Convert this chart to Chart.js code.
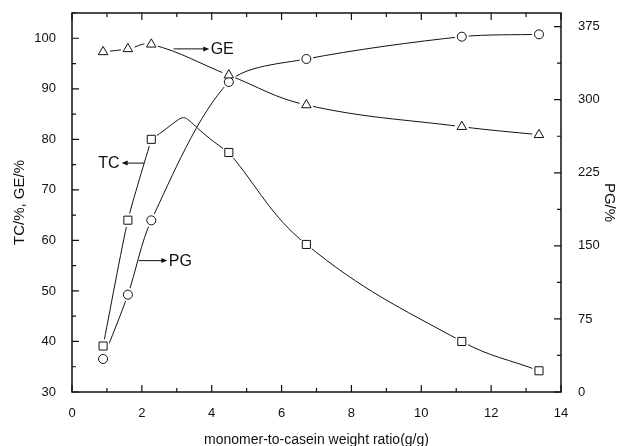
<!DOCTYPE html>
<html>
<head>
<meta charset="utf-8">
<script src="https://cdn.jsdelivr.net/npm/chart.js@4.4.1/dist/chart.umd.min.js"></script>
<style>
  body { margin: 0; background: #fff; }
  #wrap { position: relative; width: 618px; height: 446px; }
</style>
</head>
<body>
<div id="wrap"><canvas id="ratioChart"></canvas></div>
<script>
// monomer-to-casein weight ratio (g/g)
const ratios = [0.89, 1.6, 2.27, 4.49, 6.71, 11.16, 13.37];
const tcValues = [39.1, 64.0, 80.0, 77.4, 59.2, 40.0, 34.2];
const geValues = [97.3, 97.9, 98.8, 92.7, 86.8, 82.5, 80.9];
const pgValues = [33.9, 99.9, 176.2, 318.2, 341.8, 364.7, 367.1];

const xTicks = [0, 2, 4, 6, 8, 10, 12, 14];
const leftTicks = [30, 40, 50, 60, 70, 80, 90, 100];
const rightTicks = [0, 75, 150, 225, 300, 375];

// curve labels with arrows (x in g/g, y on the left axis)
const curveLabels = [
    { text: 'GE', x: 3.97, y: 97.9, from: 2.91, to: 3.93 },
    { text: 'TC', x: 1.36, y: 75.3, from: 2.06, to: 1.42 },
    { text: 'PG', x: 2.77, y: 56.0, from: 1.91, to: 2.73 }
];

const ink = '#111';
const font = 'Liberation Sans, Arial, sans-serif';

function pts(ys, a, b) {
    return ratios.map(function (x, i) { return { x: x, y: ys[i] }; }).slice(a, b);
}

function lineSet(ys, axis, tension, a, b, hide) {
    hide = hide || [];
    return {
        data: pts(ys, a, b), yAxisID: axis, borderColor: ink, borderWidth: 1, tension: tension,
        pointRadius: 0, order: 3,
        segment: {
            borderColor: function (ctx) { return hide.indexOf(ctx.p0DataIndex) >= 0 ? 'rgba(0,0,0,0)' : ink; }
        }
    };
}

function markerSets(ys, axis, style, radius) {
    return [
        { data: pts(ys), yAxisID: axis, showLine: false, pointRadius: 7, pointBorderWidth: 0,
          pointBackgroundColor: '#fff', order: 2 },
        { data: pts(ys), yAxisID: axis, showLine: false, pointStyle: style, pointRadius: radius,
          pointBorderColor: ink, pointBorderWidth: 1, pointBackgroundColor: '#fff', order: 1 }
    ];
}

const frame = {
    id: 'frame',
    afterDraw: function (chart) {
        const c = chart.ctx, a = chart.chartArea;
        const sx = chart.scales.x, sl = chart.scales.y, sr = chart.scales.y1;
        c.save();
        c.strokeStyle = ink;
        c.lineWidth = 1.5;
        c.strokeRect(a.left, a.top, a.right - a.left, a.bottom - a.top);
        c.lineWidth = 1.2;
        c.beginPath();
        for (let v = 0; v <= 14; v += 1) {
            const px = sx.getPixelForValue(v), len = v % 2 === 0 ? 7 : 4;
            c.moveTo(px, a.bottom); c.lineTo(px, a.bottom - len);
            c.moveTo(px, a.top); c.lineTo(px, a.top + len);
        }
        for (let v = 30; v <= 105; v += 5) {
            const py = sl.getPixelForValue(v), len = v % 10 === 0 ? 7 : 4;
            c.moveTo(a.left, py); c.lineTo(a.left + len, py);
        }
        for (let v = 0; v <= 375; v += 37.5) {
            const py = sr.getPixelForValue(v), len = v % 75 === 0 ? 7 : 4;
            c.moveTo(a.right, py); c.lineTo(a.right - len, py);
        }
        c.stroke();

        // curve names and arrows
        c.fillStyle = ink;
        c.lineWidth = 1;
        c.font = '16px ' + font;
        c.textBaseline = 'middle';
        curveLabels.forEach(function (l) {
            const y = sl.getPixelForValue(l.y);
            const x0 = sx.getPixelForValue(l.from), x1 = sx.getPixelForValue(l.to);
            const dir = x1 > x0 ? 1 : -1;
            c.beginPath();
            c.moveTo(x0, y); c.lineTo(x1 - dir * 5, y);
            c.stroke();
            c.beginPath();
            c.moveTo(x1, y); c.lineTo(x1 - dir * 6, y - 2.5); c.lineTo(x1 - dir * 6, y + 2.5);
            c.closePath();
            c.fill();
            c.textAlign = dir > 0 ? 'left' : 'right';
            c.fillText(l.text, sx.getPixelForValue(l.x), y + 1);
        });
        c.restore();
    }
};

function fixedTicks(list) {
    return function (scale) {
        scale.ticks = list.map(function (v) { return { value: v }; });
    };
}

function fitWidth(w) {
    return function (s) { s.width = w; s.paddingTop = 0; s.paddingBottom = 0; };
}

const tickFont = { family: font, size: 13 };
const titleFont = { family: font, size: 15 };

new Chart(document.getElementById('ratioChart'), {
    type: 'line',
    data: {
        datasets: [
            // TC curve drawn in three overlapping pieces so the hump after 2.27 bulges like the original
            lineSet(tcValues, 'y', 0.2, 0, 3),
            lineSet(tcValues, 'y', 1.0, 1, 5, [0, 2]),
            lineSet(tcValues, 'y', 0.4, 3, 7),
            lineSet(geValues, 'y', 0.4, 0, 7),
            lineSet(pgValues, 'y1', 0.3, 0, 7)
        ].concat(
            markerSets(tcValues, 'y', 'rect', 5.7),
            markerSets(geValues, 'y', 'triangle', 5.5),
            markerSets(pgValues, 'y1', 'circle', 4.5)
        )
    },
    options: {
        responsive: true,
        maintainAspectRatio: false,
        animation: false,
        layout: { padding: { top: 13 } },
        plugins: { legend: { display: false }, tooltip: { enabled: false } },
        scales: {
            x: {
                type: 'linear', min: 0, max: 14,
                afterBuildTicks: fixedTicks(xTicks),
                afterFit: function (s) { s.height = 54; s.paddingLeft = 0; s.paddingRight = 0; },
                grid: { display: false }, border: { display: false },
                ticks: { color: ink, font: tickFont, padding: 6, maxRotation: 0 },
                title: { display: true, text: 'monomer-to-casein weight ratio(g/g)', color: ink,
                         font: { family: font, size: 14 }, padding: { top: 0, bottom: -3 } }
            },
            y: {
                position: 'left', min: 30, max: 105,
                afterBuildTicks: fixedTicks(leftTicks),
                afterFit: fitWidth(72),
                grid: { display: false }, border: { display: false },
                ticks: { color: ink, font: tickFont, padding: 8 },
                title: { display: true, text: 'TC/%, GE/%', color: ink, font: titleFont,
                         padding: { top: 11, bottom: 0 } }
            },
            y1: {
                position: 'right', min: 0, max: 389,
                afterBuildTicks: fixedTicks(rightTicks),
                afterFit: fitWidth(57),
                grid: { display: false }, border: { display: false },
                ticks: { color: ink, font: tickFont, padding: 9 },
                title: { display: true, text: 'PG/%', color: ink, font: titleFont,
                         padding: { top: 0, bottom: 0 } }
            }
        }
    },
    plugins: [frame]
});
</script>
</body>
</html>
